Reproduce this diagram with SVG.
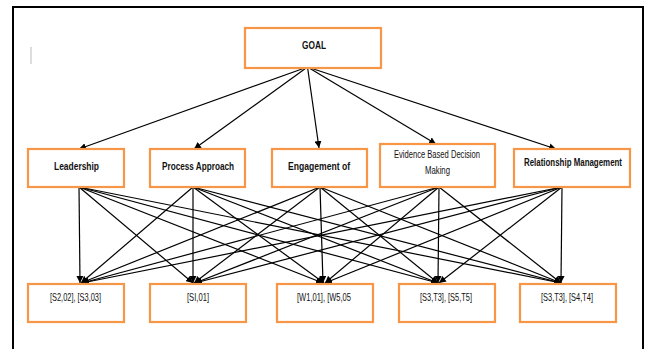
<svg xmlns="http://www.w3.org/2000/svg" width="648" height="349" viewBox="0 0 648 349">
<defs>
<marker id="ah" viewBox="0 0 10 10" refX="10" refY="5" markerWidth="7" markerHeight="7" markerUnits="userSpaceOnUse" orient="auto">
<path d="M0,0 L10,5 L0,10 z" fill="#000"/>
</marker>
<style>
.box{fill:#fff;stroke:#F79646;stroke-width:2.2}
.t{font-family:"Liberation Sans",Arial,sans-serif;font-size:11px;fill:#111;text-anchor:middle}
.b{font-weight:bold}
.c line{stroke:#000;stroke-width:1.2;marker-end:url(#ah)}
</style>
</defs>
<rect width="648" height="349" fill="#fff"/>
<path d="M13,349 V7 H643 V349" fill="none" stroke="#000" stroke-width="2"/>
<line x1="31" y1="47" x2="31" y2="64" stroke="#bbb" stroke-width="1"/>
<g class="c" id="connectors">
<line x1="307.5" y1="67" x2="79" y2="149"/>
<line x1="307.5" y1="67" x2="194" y2="149"/>
<line x1="307.5" y1="67" x2="319" y2="148"/>
<line x1="307.5" y1="67" x2="436" y2="144"/>
<line x1="307.5" y1="67" x2="556" y2="149"/>
<line x1="79" y1="187" x2="80" y2="283"/>
<line x1="79" y1="187" x2="193" y2="283"/>
<line x1="79" y1="187" x2="323" y2="283"/>
<line x1="79" y1="187" x2="438" y2="283"/>
<line x1="79" y1="187" x2="561" y2="283"/>
<line x1="193" y1="187" x2="81" y2="283"/>
<line x1="193" y1="187" x2="193" y2="283"/>
<line x1="193" y1="187" x2="324" y2="283"/>
<line x1="193" y1="187" x2="438" y2="283"/>
<line x1="193" y1="187" x2="561" y2="283"/>
<line x1="320" y1="187" x2="81" y2="283"/>
<line x1="320" y1="187" x2="194" y2="283"/>
<line x1="320" y1="187" x2="323" y2="283"/>
<line x1="320" y1="187" x2="438" y2="283"/>
<line x1="320" y1="187" x2="561" y2="283"/>
<line x1="439" y1="187" x2="82" y2="283"/>
<line x1="439" y1="187" x2="195" y2="283"/>
<line x1="439" y1="187" x2="325" y2="283"/>
<line x1="439" y1="187" x2="438" y2="283"/>
<line x1="439" y1="187" x2="561" y2="283"/>
<line x1="562" y1="187" x2="82" y2="283"/>
<line x1="562" y1="187" x2="195" y2="283"/>
<line x1="562" y1="187" x2="325" y2="283"/>
<line x1="562" y1="187" x2="439" y2="283"/>
<line x1="562" y1="187" x2="561" y2="283"/>
</g>
<g id="goal">
<rect class="box" x="245" y="28" width="136" height="40"/>
<text class="t b" x="314" y="49" textLength="24" lengthAdjust="spacingAndGlyphs">GOAL</text>
</g>
<g id="leadership">
<rect class="box" x="28" y="149" width="96" height="38"/>
<text class="t b" x="76.5" y="170" textLength="45" lengthAdjust="spacingAndGlyphs">Leadership</text>
</g>
<g id="process">
<rect class="box" x="150" y="149" width="95" height="38"/>
<text class="t b" x="198" y="170" textLength="72" lengthAdjust="spacingAndGlyphs">Process Approach</text>
</g>
<g id="engagement">
<rect class="box" x="272" y="149" width="95" height="38"/>
<text class="t b" x="319" y="170" textLength="62" lengthAdjust="spacingAndGlyphs">Engagement of</text>
</g>
<g id="evidence">
<rect class="box" x="380" y="144" width="115" height="43"/>
<text class="t" x="437" y="158" textLength="86" lengthAdjust="spacingAndGlyphs">Evidence Based Decision</text>
<text class="t" x="437.5" y="174" textLength="25" lengthAdjust="spacingAndGlyphs">Making</text>
</g>
<g id="relationship">
<rect class="box" x="514" y="149" width="116" height="38"/>
<text class="t b" x="573" y="166" textLength="98" lengthAdjust="spacingAndGlyphs">Relationship Management</text>
</g>
<g id="out1">
<rect class="box" x="28" y="284" width="96" height="38"/>
<text class="t" x="75.5" y="301" textLength="51" lengthAdjust="spacingAndGlyphs">[S2,02], [S3,03]</text>
</g>
<g id="out2">
<rect class="box" x="150" y="284" width="96" height="38"/>
<text class="t" x="198" y="301" textLength="22" lengthAdjust="spacingAndGlyphs">[SI,01]</text>
</g>
<g id="out3">
<rect class="box" x="277" y="284" width="96" height="38"/>
<text class="t" x="324" y="301" textLength="54" lengthAdjust="spacingAndGlyphs">[W1,01], [W5,05</text>
</g>
<g id="out4">
<rect class="box" x="399" y="284" width="96" height="38"/>
<text class="t" x="446" y="301" textLength="52" lengthAdjust="spacingAndGlyphs">[S3,T3], [S5,T5]</text>
</g>
<g id="out5">
<rect class="box" x="520" y="284" width="96" height="38"/>
<text class="t" x="567" y="301" textLength="52" lengthAdjust="spacingAndGlyphs">[S3,T3], [S4,T4]</text>
</g>
</svg>
